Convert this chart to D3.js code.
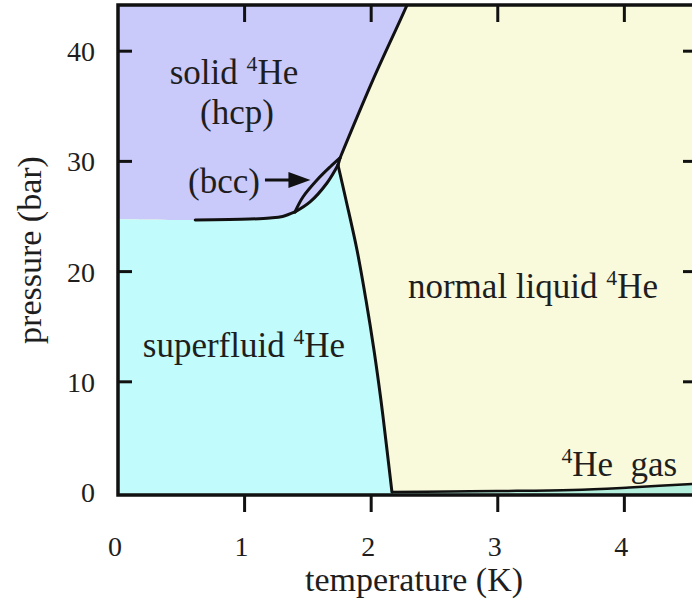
<!DOCTYPE html>
<html>
<head>
<meta charset="utf-8">
<script src="https://cdn.jsdelivr.net/npm/d3@7"></script>
<style>
  html, body { margin: 0; padding: 0; background: #fff; }
  svg { display: block; }
  text { font-family: "Liberation Serif", "DejaVu Serif", serif; fill: #1e1e1e; }
</style>
</head>
<body>
<svg id="chart" width="692" height="605"></svg>
<script>
// ---- data (temperature K, pressure bar) ----
const xTicks = [0, 1, 2, 3, 4];
const yTicks = [0, 10, 20, 30, 40];
const meltingLow  = [[0, 24.75], [0.61, 24.68], [1.04, 24.77], [1.2, 24.86], [1.3, 25.0], [1.398, 25.41]];
const bccUpper    = [[1.398, 25.41], [1.461, 26.77], [1.572, 28.31], [1.675, 29.49], [1.754, 30.31]];
const bccLower    = [[1.398, 25.41], [1.517, 26.32], [1.651, 28.04], [1.738, 29.67]];
const bccTip      = [[1.738, 29.67], [1.754, 30.31]];
const meltingHigh = [[1.754, 30.31], [2.014, 37.39], [2.283, 44.19], [2.31, 45.0]];
const lambdaLine  = [[1.738, 29.67], [1.801, 26.5], [1.888, 21.96], [1.959, 17.42], [2.022, 12.89], [2.077, 8.35], [2.125, 3.81], [2.164, 0]];
const vaporCurve  = [[2.164, 0], [2.62, 0.05], [3.0, 0.09], [3.59, 0.18], [4.04, 0.41], [4.6, 0.78]];
const lineStart = 0.6;  // melting curve is drawn from here

const plot = { left: 118, top: 5, right: 695, bottom: 495 };
const Tmin = 0, Tmax = 4.558, Pmin = -0.27, Pmax = 44.19;

const x = d3.scaleLinear().domain([Tmin, Tmax]).range([plot.left, plot.right]);
const y = d3.scaleLinear().domain([Pmin, Pmax]).range([plot.bottom, plot.top]);

const svg = d3.select("#chart");
svg.append("defs").append("clipPath").attr("id", "clip")
  .append("rect").attr("x", plot.left).attr("y", plot.top)
  .attr("width", plot.right - plot.left).attr("height", plot.bottom - plot.top);

const colors = { solid: "#c9c9fa", superfluid: "#c2fbfb", liquid: "#f9f9dc", gas: "#b4eedc" };

const g = svg.append("g").attr("clip-path", "url(#clip)");
const curve = d3.line().x(d => x(d[0])).y(d => y(d[1])).curve(d3.curveCatmullRom.alpha(0.5));
const seg = pts => curve(pts).replace(/^M/, "L");
const segRev = pts => seg(pts.slice().reverse());
const pt = (T, P) => `${x(T)},${y(P)}`;
const lastOf = a => a[a.length - 1];

// normal liquid background
g.append("rect").attr("x", plot.left).attr("y", plot.top)
  .attr("width", plot.right - plot.left).attr("height", plot.bottom - plot.top)
  .attr("fill", colors.liquid);

// solid hcp region
g.append("path").attr("fill", colors.solid).attr("d",
  `M${pt(Tmin, Pmax + 2)}` + seg(meltingLow) + seg(bccUpper) + seg(meltingHigh) +
  `L${pt(lastOf(meltingHigh)[0], Pmax + 2)}Z`);

// bcc lens
g.append("path").attr("fill", colors.solid).attr("d",
  curve(bccUpper) + segRev(bccTip) + segRev(bccLower) + "Z");

// superfluid region
g.append("path").attr("fill", colors.superfluid).attr("d",
  `M${pt(Tmin, Pmin - 1)}` + seg(meltingLow) + seg(bccLower) + seg(lambdaLine) +
  `L${pt(lastOf(lambdaLine)[0], Pmin - 1)}Z`);

// gas region
g.append("path").attr("fill", colors.gas).attr("d",
  curve(vaporCurve) + `L${pt(lastOf(vaporCurve)[0], Pmin - 1)}L${pt(vaporCurve[0][0], Pmin - 1)}Z`);

// phase boundaries
[meltingLow.filter(d => d[0] >= lineStart), bccUpper, bccLower, bccTip, meltingHigh, lambdaLine]
  .forEach(s => g.append("path").attr("d", curve(s))
    .attr("fill", "none").attr("stroke", "#111").attr("stroke-width", 3)
    .attr("stroke-linejoin", "round").attr("stroke-linecap", "round"));
g.append("path").attr("d", curve(vaporCurve))
  .attr("fill", "none").attr("stroke", "#111").attr("stroke-width", 2.5);

// frame
svg.append("rect").attr("x", plot.left).attr("y", plot.top)
  .attr("width", plot.right - plot.left).attr("height", plot.bottom - plot.top)
  .attr("fill", "none").attr("stroke", "#111").attr("stroke-width", 3.5);

// ticks
const tk = svg.append("g").attr("stroke", "#111").attr("stroke-width", 3);
xTicks.filter(t => t > 0).forEach(t => {
  tk.append("line").attr("x1", x(t)).attr("x2", x(t)).attr("y1", plot.top).attr("y2", plot.top + 17);
  tk.append("line").attr("x1", x(t)).attr("x2", x(t)).attr("y1", plot.bottom).attr("y2", plot.bottom + 17);
});
yTicks.filter(t => t > 0).forEach(t => {
  tk.append("line").attr("x1", plot.left).attr("x2", plot.left + 14).attr("y1", y(t)).attr("y2", y(t));
  tk.append("line").attr("x1", plot.right).attr("x2", plot.right - 12).attr("y1", y(t)).attr("y2", y(t));
});

// tick labels
svg.append("g").selectAll("text").data(xTicks).join("text")
  .attr("x", d => x(d) - 3).attr("y", 556).attr("text-anchor", "middle")
  .attr("font-size", 28).text(d => d);
svg.append("g").selectAll("text").data(yTicks).join("text")
  .attr("x", 95).attr("y", d => y(d) + 10).attr("text-anchor", "end")
  .attr("font-size", 28).text(d => d);

// axis titles
svg.append("text").attr("x", 414).attr("y", 591).attr("text-anchor", "middle")
  .attr("font-size", 34).text("temperature (K)");
svg.append("text").attr("transform", "translate(41,250) rotate(-90)")
  .attr("text-anchor", "middle").attr("font-size", 34).text("pressure (bar)");

// region labels with superscript 4
const FS = 35;
function label(T, P, before, after) {
  const t = svg.append("text").attr("x", x(T)).attr("y", y(P))
    .attr("text-anchor", "middle").attr("font-size", FS);
  if (before) t.append("tspan").text(before);
  t.append("tspan").attr("font-size", FS * 0.62).attr("dy", -FS * 0.38).text("4");
  t.append("tspan").attr("dy", FS * 0.38).text(after);
}
label(0.916, 37.02, "solid ", "He");
svg.append("text").attr("x", x(0.94)).attr("y", y(33.39)).attr("text-anchor", "middle")
  .attr("font-size", FS).text("(hcp)");
svg.append("text").attr("x", x(0.837)).attr("y", y(27.13)).attr("text-anchor", "middle")
  .attr("font-size", FS).text("(bcc)");
label(3.278, 17.6, "normal liquid ", "He");
label(0.995, 12.25, "superfluid ", "He");
label(3.96, 1.45, "", "He\u00a0\u00a0gas");

// arrow to bcc phase
const arrowY = 28.31, arrowFrom = 1.161, arrowTip = 1.52;
svg.append("line").attr("x1", x(arrowFrom)).attr("x2", x(arrowTip) - 12)
  .attr("y1", y(arrowY)).attr("y2", y(arrowY)).attr("stroke", "#111").attr("stroke-width", 3);
svg.append("path")
  .attr("d", `M${x(arrowTip)},${y(arrowY)} L${x(arrowTip) - 22},${y(arrowY) - 8} L${x(arrowTip) - 22},${y(arrowY) + 8} Z`)
  .attr("fill", "#111");
</script>
</body>
</html>
